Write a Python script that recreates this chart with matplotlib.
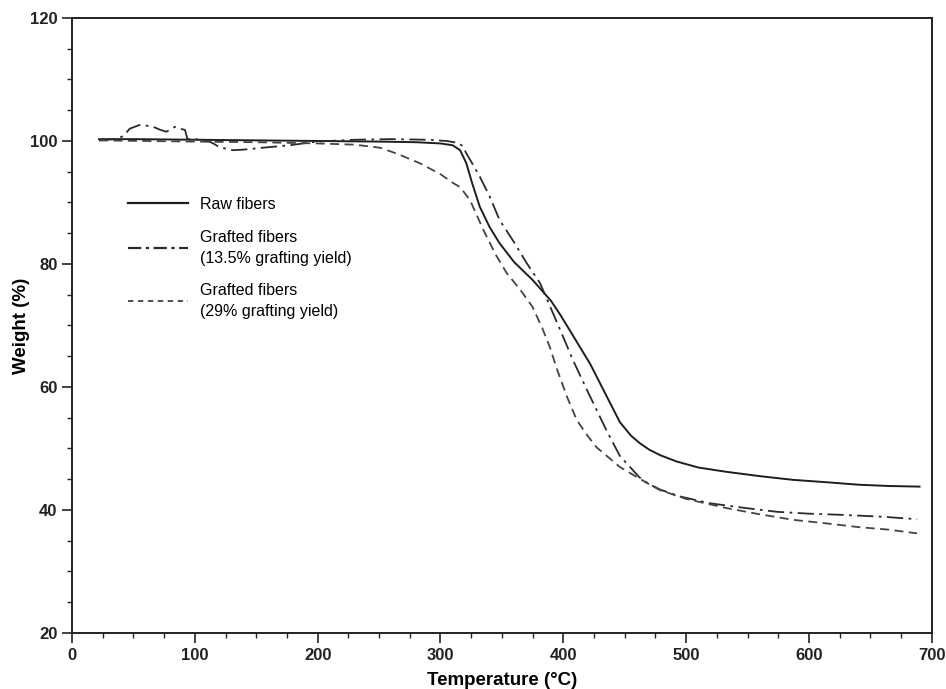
import numpy as np
import matplotlib
matplotlib.use('Agg')
import matplotlib.pyplot as plt
from matplotlib.ticker import MultipleLocator
from matplotlib.lines import Line2D

# 温度 (°C) 与失重 (%) 数据
raw_t = [22, 50, 100, 150, 200, 250, 280, 300, 310, 316, 321, 326, 332, 340, 348,
         360, 375, 390, 397, 405, 422, 435, 446, 455, 462, 470, 479, 492, 510, 533,
         560, 587, 615, 641, 665, 690]
raw_w = [100.3, 100.3, 100.2, 100.1, 100.0, 99.9, 99.8, 99.6, 99.3, 98.5, 96.4, 93.0,
         89.3, 86.0, 83.4, 80.3, 77.4, 74.0, 71.9, 69.3, 63.7, 58.6, 54.3, 52.1,
         50.9, 49.8, 48.9, 47.9, 46.9, 46.2, 45.5, 44.9, 44.5, 44.1, 43.9, 43.8]

g135_t = [22, 35, 42, 47, 55, 65, 72, 77, 80, 84, 88, 92, 94, 100, 110, 115, 120, 131,
          140, 155, 177, 199, 230, 260, 290, 305, 314, 318, 321, 326, 332, 340, 348,
          360, 370, 381, 397, 408, 420, 435, 446, 462, 470, 479, 495, 519, 545,
          574, 600, 628, 660, 688]
g135_w = [100.1, 100.3, 100.8, 102.0, 102.6, 102.4, 101.8, 101.5, 101.9, 102.3, 102.0,
          101.8, 100.3, 100.3, 100.1, 99.6, 99.0, 98.5, 98.6, 98.9, 99.3, 99.9, 100.2,
          100.3, 100.2, 100.0, 99.7, 99.2, 98.0, 96.3, 94.2, 91.0, 87.2, 83.5, 80.2,
          76.9, 69.5, 64.3, 59.2, 53.0, 48.8, 45.3, 44.2, 43.3, 42.2, 41.1,
          40.4, 39.7, 39.4, 39.2, 38.9, 38.5]

g29_t = [22, 60, 100, 150, 200, 230, 251, 265, 283, 300, 310, 316, 324, 335, 345, 354,
         365, 375, 383, 389, 395, 403, 411, 420, 427, 446, 468, 479, 500, 533,
         560, 587, 615, 641, 665, 688]
g29_w = [100.1, 100.0, 99.9, 99.8, 99.6, 99.4, 98.9, 97.9, 96.4, 94.6, 93.2, 92.5, 90.4,
         85.5, 81.5, 78.5, 75.8, 73.0, 69.5, 66.5, 62.8, 58.4, 54.6, 52.0, 50.2, 47.0,
         44.4, 43.2, 41.8, 40.3, 39.3, 38.4, 37.8, 37.2, 36.8, 36.2]

labels = ['Raw fibers',
          'Grafted fibers\n(13.5% grafting yield)',
          'Grafted fibers\n(29% grafting yield)']

x_ticks = [0, 100, 200, 300, 400, 500, 600, 700]
y_ticks = [20, 40, 60, 80, 100, 120]

tick_font = dict(family=['Liberation Sans Narrow', 'Liberation Sans'], weight='bold', size=12)
label_font = dict(family=['Liberation Sans Narrow', 'Liberation Sans'], weight='bold', size=13.5)

fig = plt.figure(figsize=(9.46, 6.89), dpi=100)
ax = fig.add_axes([0.0761, 0.0813, 0.9089, 0.8926])

ax.plot(raw_t, raw_w, color='#1e1e1e', lw=1.4, ls='-')
ax.plot(g135_t, g135_w, color='#2a2a2a', lw=1.3, dashes=(9, 3, 1.5, 3))
ax.plot(g29_t, g29_w, color='#444444', lw=1.3, dashes=(5, 3))

ax.set_xlim(0, 700)
ax.set_ylim(20, 120)
ax.set_xticks(x_ticks)
ax.set_yticks(y_ticks)
ax.xaxis.set_minor_locator(MultipleLocator(25))
ax.yaxis.set_minor_locator(MultipleLocator(5))
ax.tick_params(which='major', direction='out', length=7, width=1.2, color='#222222')
ax.tick_params(which='minor', direction='out', length=3.5, width=1.0, color='#222222')
for lab in ax.get_xticklabels() + ax.get_yticklabels():
    lab.set_fontfamily(tick_font['family'])
    lab.set_fontweight('bold')
    lab.set_fontsize(12)
    lab.set_color('#222222')
for sp in ax.spines.values():
    sp.set_linewidth(1.4)
    sp.set_color('#222222')

ax.set_xlabel('Temperature (°C)', fontdict=label_font, labelpad=7)
ax.set_ylabel('Weight (%)', fontdict=label_font, labelpad=0)

handles = [Line2D([], [], color='#1e1e1e', lw=1.6, ls='-'),
           Line2D([], [], color='#2a2a2a', lw=1.6, dashes=(6, 2, 1.5, 2)),
           Line2D([], [], color='#444444', lw=1.3, dashes=(3, 2.5))]
leg = ax.legend(handles, labels, loc='upper left', bbox_to_anchor=(0.0555, 0.722),
                frameon=False, prop={'family': 'Liberation Sans', 'size': 11.5},
                handlelength=3.8, handletextpad=0.75, labelspacing=1.1, borderpad=0)
for t in leg.get_texts():
    t.set_linespacing(1.5)

fig.savefig('out.png', dpi=100, facecolor='white')
